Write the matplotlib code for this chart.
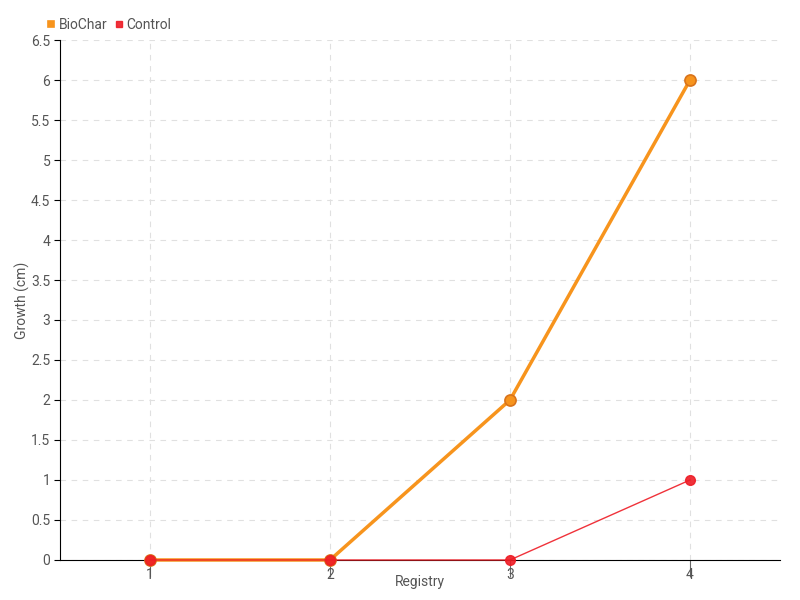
import matplotlib.pyplot as plt

registry = [1, 2, 3, 4]
biochar = [0, 0, 2, 6]
control = [0, 0, 0, 1]
y_ticks = [0, 0.5, 1, 1.5, 2, 2.5, 3, 3.5, 4, 4.5, 5, 5.5, 6, 6.5]
y_labels = ["0", "0.5", "1", "1.5", "2", "2.5", "3", "3.5", "4", "4.5", "5", "5.5", "6", "6.5"]

plt.rcParams['font.family'] = ['Roboto', 'DejaVu Sans']

fig = plt.figure(figsize=(8, 6), dpi=100)
ax = fig.add_axes([0.075, 0.0667, 0.9, 0.8666])

# --- series ---
ax.plot(registry, biochar, color="#f7941d", linewidth=2.5, marker='o', markersize=8,
        markerfacecolor="#f7941d", markeredgecolor="#d9731a", markeredgewidth=1.2,
        label="BioChar", zorder=3, clip_on=False)
ax.plot(registry, control, color="#ee1c25", linewidth=1, marker='o', markersize=7,
        markerfacecolor="#ee1c25", markeredgecolor="#ee1c25", alpha=0.9,
        label="Control", zorder=4, clip_on=False)

ax.set_xlim(0.5, 4.5)
ax.set_ylim(0, 6.5)
ax.set_xticks(registry)
ax.set_yticks(y_ticks)
ax.set_yticklabels(y_labels)

ax.grid(True, color="#e0e0e0", linestyle=(0, (5, 5)), linewidth=0.8)
ax.set_axisbelow(True)
for s in ['top', 'right']:
    ax.spines[s].set_visible(False)
ax.spines['left'].set_color('black')
ax.spines['bottom'].set_color('black')

ax.tick_params(axis='x', length=12, color="#666666", pad=-6, labelsize=10, labelcolor="#555555")
ax.tick_params(axis='y', length=4, color="black", pad=3, labelsize=10, labelcolor="#555555")

ax.set_xlabel("Registry", fontsize=10, color="#555555", labelpad=-5)
ax.set_ylabel("Growth (cm)", fontsize=10, color="#555555")
ax.yaxis.set_label_coords(-0.042, 0.5)

ax.legend(loc='lower left', bbox_to_anchor=(-0.025, 1.005), ncol=2, frameon=False,
          fontsize=10, labelcolor="#555555", handlelength=0.5, handletextpad=0.3,
          columnspacing=0.6, borderaxespad=0)
# square legend handles
leg = ax.get_legend()
for h, c in zip(leg.legend_handles, ["#f7941d", "#ee1c25"]):
    h.set_marker('s')
    h.set_markersize(5)
    h.set_linestyle('none')
    h.set_markerfacecolor(c)
    h.set_markeredgecolor(c)

plt.savefig("out.png", dpi=100)
plt.close()
